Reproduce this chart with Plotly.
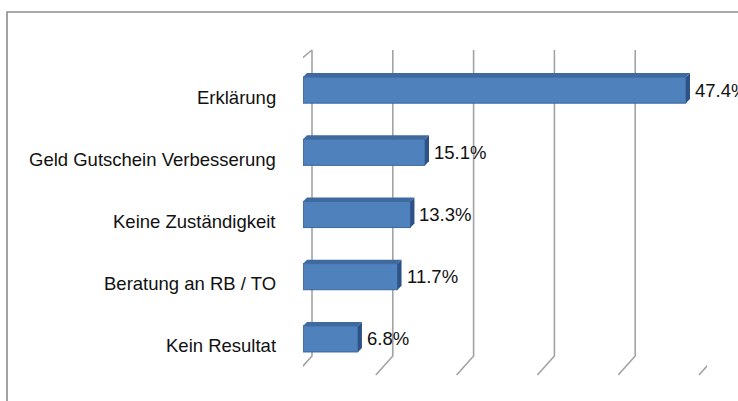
import plotly.graph_objects as go

categories = ["Erklärung", "Geld Gutschein Verbesserung", "Keine Zuständigkeit", "Beratung an RB / TO", "Kein Resultat"]
values = [47.4, 15.1, 13.3, 11.7, 6.8]
labels = ["47.4%", "15.1%", "13.3%", "11.7%", "6.8%"]
grid_values = [0, 10, 20, 30, 40, 50]

W, H = 738, 401
L, R, T, B = 303, 31, 59, 31
PW, PH = W - L - R, H - T - B
XMAX = 50
px_per_unit = PW / XMAX

FONT = "Liberation Sans, Arial, sans-serif"
FS = 18.5
GRID = "#a3a3a3"
BAR = "#4f81bd"
BAR_TOP = "#3f6aa0"
BAR_SIDE = "#2d5286"
HALF = 13  # half bar height in px (visual)

fig = go.Figure()
fig.add_trace(go.Bar(
    x=values, y=categories, orientation="h", width=0.42,
    marker=dict(color=BAR, line=dict(color="#3b679c", width=1)),
    hoverinfo="skip", showlegend=False,
))

shapes = []
# back-plane gridlines with floor feet
for v in grid_values:
    shapes.append(dict(
        type="path", layer="below",
        xref="x", xsizemode="pixel", xanchor=v,
        yref="paper", ysizemode="pixel", yanchor=0,
        path=f"M -8,-5 L 9,14 L 9,{PH + 9}",
        line=dict(color=GRID, width=1.6),
    ))
# front category axis line with top diagonal
shapes.append(dict(
    type="path", layer="below",
    xref="x", xsizemode="pixel", xanchor=0,
    yref="paper", ysizemode="pixel", yanchor=0,
    path=f"M -8,-5 L -8,{PH - 5} L 9,{PH + 9}",
    line=dict(color=GRID, width=1.6),
))
# ticks on front axis at category boundaries
for k in range(len(categories) + 1):
    shapes.append(dict(
        type="line", layer="below",
        xref="x", xsizemode="pixel", xanchor=0,
        yref="y", ysizemode="pixel", yanchor=k - 0.5,
        x0=-14, x1=-8, y0=-5, y1=-5,
        line=dict(color=GRID, width=1.4),
    ))
# 3D faces of bars
d = 4 / px_per_unit
for c, v in zip(categories, values):
    shapes.append(dict(
        type="path", layer="above",
        xref="x", xsizemode="scaled",
        yref="y", ysizemode="pixel", yanchor=c,
        path=f"M 0,{HALF} L {v},{HALF} L {v + d},{HALF + 4} L {d},{HALF + 4} Z",
        fillcolor=BAR_TOP, line=dict(width=0),
    ))
    shapes.append(dict(
        type="path", layer="above",
        xref="x", xsizemode="pixel", xanchor=v,
        yref="y", ysizemode="pixel", yanchor=c,
        path=f"M 0,{-HALF} L 4,{-HALF + 4} L 4,{HALF + 4} L 0,{HALF} Z",
        fillcolor=BAR_SIDE, line=dict(width=0),
    ))
# outer frame (only top/left visible)
shapes.append(dict(
    type="rect", layer="below", xref="paper", yref="paper",
    x0=(7 - L) / PW, x1=(W + 10 - L) / PW,
    y0=(PH + T - (H + 10)) / PH, y1=(PH + T - 12) / PH,
    line=dict(color="#8c8c8c", width=1.6), fillcolor="rgba(0,0,0,0)",
))

annotations = []
for c, v, t in zip(categories, values, labels):
    annotations.append(dict(
        x=v, y=c, xref="x", yref="y", text=t, showarrow=False,
        xanchor="left", yanchor="middle", xshift=7, yshift=0,
        font=dict(family=FONT, size=FS, color="#111111"),
    ))
    annotations.append(dict(
        x=0, y=c, xref="paper", yref="y", text=c, showarrow=False,
        xanchor="right", yanchor="middle", xshift=-25, yshift=-7,
        font=dict(family=FONT, size=FS, color="#111111"),
    ))

fig.update_layout(
    width=W, height=H,
    margin=dict(l=L, r=R, t=T, b=B),
    paper_bgcolor="white", plot_bgcolor="white",
    shapes=shapes, annotations=annotations,
    xaxis=dict(range=[0, XMAX], showgrid=False, zeroline=False, showline=False,
               showticklabels=False, ticks="", fixedrange=True),
    yaxis=dict(categoryorder="array", categoryarray=categories,
               range=[len(categories) - 0.5, -0.5], showgrid=False, zeroline=False,
               showline=False, showticklabels=False, ticks="", fixedrange=True),
    bargap=0.58,
)

fig.write_html("out.html", config={"displayModeBar": False},
               post_script="document.body.style.margin='0px';")
